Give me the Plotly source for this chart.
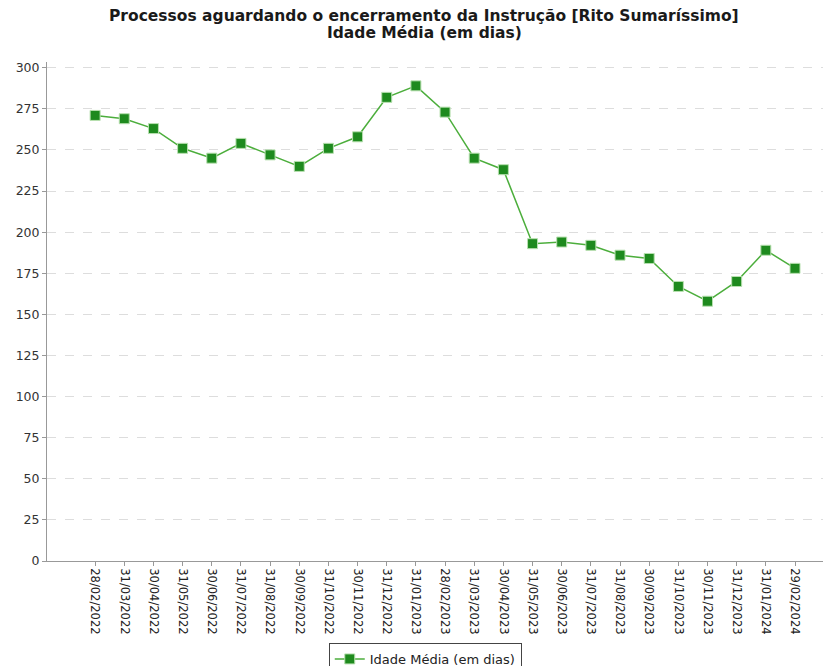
import plotly.graph_objects as go

# Datas de referência (fim de mês) e idade média em dias
datas = [
    '28/02/2022', '31/03/2022', '30/04/2022', '31/05/2022', '30/06/2022',
    '31/07/2022', '31/08/2022', '30/09/2022', '31/10/2022', '30/11/2022',
    '31/12/2022', '31/01/2023', '28/02/2023', '31/03/2023', '30/04/2023',
    '31/05/2023', '30/06/2023', '31/07/2023', '31/08/2023', '30/09/2023',
    '31/10/2023', '30/11/2023', '31/12/2023', '31/01/2024', '29/02/2024',
]
idade_media = [
    271, 269, 263, 251, 245,
    254, 247, 240, 251, 258,
    282, 289, 273, 245, 238,
    193, 194, 192, 186, 184,
    167, 158, 170, 189, 178,
]
y_ticks = [0, 25, 50, 75, 100, 125, 150, 175, 200, 225, 250, 275, 300]
titulo = ['Processos aguardando o encerramento da Instrução [Rito Sumaríssimo]',
          'Idade Média (em dias)']

fig = go.Figure()

fig.add_trace(go.Scatter(
    x=list(range(len(datas))), y=idade_media,
    mode='lines+markers', name='Idade Média (em dias)',
    line=dict(color='#4cae3c', width=1.5),
    marker=dict(symbol='square', size=10, color='#1e8a1e',
                line=dict(color='#b8e0b0', width=1)),
))

# two title lines as annotations so the line spacing can be tighter
for txt, ypos in zip(titulo, [1.093, 1.059]):
    fig.add_annotation(
        text=f'<b>{txt}</b>', xref='paper', yref='paper',
        x=0.4815, y=ypos, xanchor='center', yanchor='middle',
        showarrow=False,
        font=dict(family='DejaVu Sans', size=15.5, color='#1a1a1a'),
    )

# the page body has an 8px margin, so the figure is sized to the visible area
fig.update_layout(
    width=823, height=658,
    paper_bgcolor='white', plot_bgcolor='white',
    margin=dict(l=39, r=1, t=54, b=105),
    font=dict(family='DejaVu Sans', color='#333333', size=11),
    xaxis=dict(
        tickmode='array', tickvals=list(range(len(datas))), ticktext=datas,
        tickangle=90, range=[-1.65, 25.2],
        showgrid=False, zeroline=False,
        showline=True, linecolor='#999999', linewidth=1,
        ticks='outside', ticklen=4, tickcolor='#999999',
        tickfont=dict(family='DejaVu Sans', size=11.5, color='#222222'),
    ),
    yaxis=dict(
        range=[0, 303.5], tickvals=y_ticks,
        showgrid=True, gridcolor='#dddddd', griddash='dash', gridwidth=1,
        zeroline=False,
        showline=True, linecolor='#999999', linewidth=1,
        ticks='outside', ticklen=4, tickcolor='#999999',
        tickfont=dict(family='DejaVu Sans', size=12.5, color='#333333'),
    ),
    showlegend=True,
    legend=dict(
        orientation='h', xref='container', yref='container',
        x=0.507, xanchor='center', y=0.035, yanchor='top',
        bordercolor='#444444', borderwidth=1, bgcolor='white',
        font=dict(family='DejaVu Sans', size=13, color='#222222'),
    ),
)

fig.write_html("out.html")
